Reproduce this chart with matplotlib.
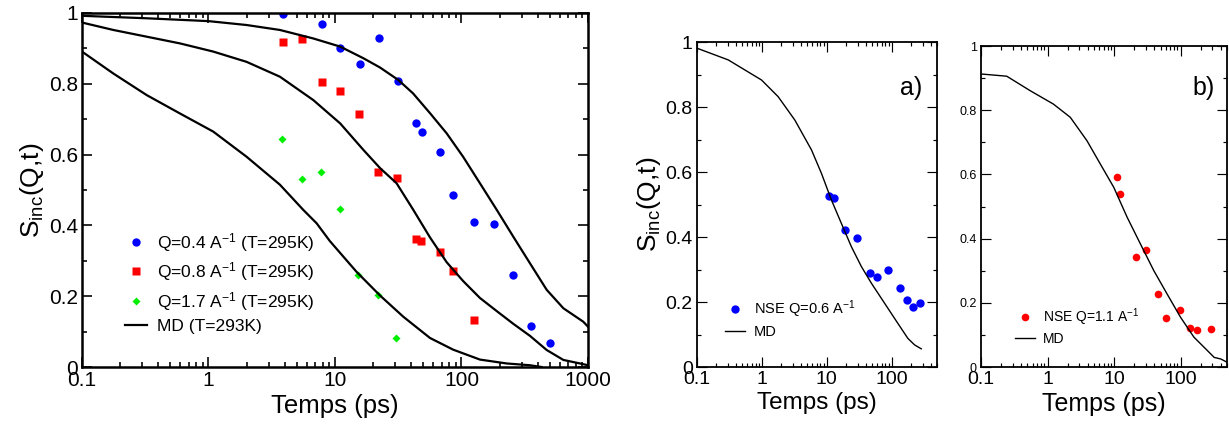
import matplotlib
matplotlib.use("Agg")
import matplotlib.pyplot as plt
from matplotlib.ticker import FixedLocator, NullFormatter, FuncFormatter

plt.rcParams['font.family'] = ['Liberation Sans', 'DejaVu Sans']
plt.rcParams['mathtext.fontset'] = 'custom'
plt.rcParams['mathtext.rm'] = 'Liberation Sans'
plt.rcParams['mathtext.it'] = 'Liberation Sans'

# ---- panel 1 : NSE data at three Q and MD curves ----
t_q04 = [3.86, 7.85, 11.0, 15.7, 22.3, 31.5, 43.4, 48.4, 68, 86, 126, 181, 254, 357, 503]
s_q04 = [0.997, 0.968, 0.902, 0.857, 0.930, 0.809, 0.689, 0.665, 0.607, 0.486, 0.409, 0.403, 0.260, 0.117, 0.067]

t_q08 = [3.86, 5.48, 7.85, 11.0, 15.6, 21.9, 30.7, 43.4, 47.8, 67.3, 85, 126]
s_q08 = [0.918, 0.927, 0.806, 0.780, 0.714, 0.551, 0.534, 0.362, 0.357, 0.326, 0.272, 0.133]

t_q17 = [3.84, 5.44, 7.7, 10.9, 15.3, 21.7, 30.4]
s_q17 = [0.643, 0.532, 0.551, 0.447, 0.260, 0.204, 0.081]

md1_t = [0.1, 0.325, 1.0, 2.0, 3.67, 6.74, 11.0, 16.8, 22.7, 31.6, 41.4, 56.4, 76.4,
         103, 140, 190, 257, 348, 472, 639, 766, 918, 1000]
md1_s = [0.992, 0.985, 0.977, 0.966, 0.952, 0.928, 0.905, 0.872, 0.846, 0.811, 0.773,
         0.717, 0.660, 0.594, 0.519, 0.444, 0.368, 0.293, 0.218, 0.166, 0.147, 0.128, 0.114]

md2_t = [0.1, 0.177, 0.325, 0.596, 1.09, 2.0, 3.67, 6.74, 11.0, 16.8, 22.7, 30.7, 41.6,
         56.4, 76.4, 103, 140, 190, 257, 348, 472, 639, 865, 1000]
md2_s = [0.973, 0.952, 0.933, 0.914, 0.891, 0.862, 0.820, 0.754, 0.688, 0.613, 0.562,
         0.519, 0.444, 0.366, 0.296, 0.243, 0.195, 0.158, 0.122, 0.088, 0.048, 0.020, 0.010, 0.005]

md3_t = [0.1, 0.177, 0.325, 0.596, 1.09, 2.0, 3.67, 5.61, 7.16, 9.1, 14.8, 22.7, 34.7,
         56.4, 86, 140, 228, 348, 430]
md3_s = [0.891, 0.829, 0.768, 0.716, 0.665, 0.594, 0.515, 0.444, 0.406, 0.356, 0.269,
         0.202, 0.142, 0.082, 0.049, 0.021, 0.010, 0.005, 0.0]

# ---- panel a : NSE Q=0.6 ----
t_a = [10.9, 13.1, 19.4, 29.2, 46.5, 59.4, 87.9, 134, 172, 210, 270]
s_a = [0.527, 0.519, 0.422, 0.398, 0.288, 0.278, 0.297, 0.242, 0.206, 0.186, 0.197]
mda_t = [0.1, 0.303, 0.99, 1.78, 3.22, 5.82, 8.28, 11.8, 16.8, 24.0, 34.2, 48.7, 78,
         125, 178, 226, 286]
mda_s = [0.981, 0.945, 0.883, 0.832, 0.760, 0.668, 0.596, 0.514, 0.442, 0.370, 0.309,
         0.258, 0.196, 0.134, 0.088, 0.068, 0.056]

# ---- panel b : NSE Q=1.1 ----
t_b = [11.1, 12.5, 21.5, 29.8, 45.2, 61.1, 99.3, 137, 175, 292]
s_b = [0.591, 0.539, 0.344, 0.364, 0.227, 0.153, 0.177, 0.122, 0.114, 0.118]
mdb_t = [0.1, 0.244, 0.548, 1.23, 2.2, 3.92, 6.24, 9.9, 15.8, 25.0, 39.7, 63, 100,
         159, 254, 320, 403, 500]
mdb_s = [0.913, 0.906, 0.861, 0.819, 0.778, 0.705, 0.632, 0.560, 0.466, 0.383, 0.300,
         0.227, 0.155, 0.093, 0.051, 0.030, 0.025, 0.015]

ylab = r'S$_{\mathregular{inc}}$(Q,t)'
fmt = FuncFormatter(lambda v, p: '%g' % v)

x_major = [0.1, 1, 10, 100, 1000]
x_minor = [m * d for d in [0.1, 1, 10, 100] for m in range(2, 10)]


def style_axes(ax, xmax, xfs, yfs, lw, major, minor):
    ax.set_xscale('log')
    ax.set_xlim(0.1, xmax)
    ax.set_ylim(0, 1)
    ax.xaxis.set_major_locator(FixedLocator(x_major))
    ax.xaxis.set_minor_locator(FixedLocator(x_minor))
    ax.xaxis.set_major_formatter(fmt)
    ax.xaxis.set_minor_formatter(NullFormatter())
    ax.yaxis.set_major_locator(FixedLocator([0, 0.2, 0.4, 0.6, 0.8, 1.0]))
    ax.yaxis.set_minor_locator(FixedLocator([0.1, 0.3, 0.5, 0.7, 0.9]))
    ax.yaxis.set_major_formatter(fmt)
    ax.tick_params(which='both', direction='in', top=True, right=True,
                   width=lw * 0.65, color='black')
    ax.tick_params(which='major', length=major)
    ax.tick_params(which='minor', length=minor)
    ax.tick_params(axis='x', labelsize=xfs, pad=3)
    ax.tick_params(axis='y', labelsize=yfs, pad=3)
    for sp in ax.spines.values():
        sp.set_linewidth(lw)


fig = plt.figure(figsize=(12.29, 4.24), dpi=100)

# panel 1
ax1 = fig.add_axes([0.0667, 0.1344, 0.4117, 0.835])
ax1.plot(t_q04, s_q04, 'o', color='#0000ff', ms=6, mec='none', label=r'Q=0.4 A$^{-1}$ (T=295K)')
ax1.plot(t_q08, s_q08, 's', color='#ff0000', ms=6, mec='none', label=r'Q=0.8 A$^{-1}$ (T=295K)')
ax1.plot(t_q17, s_q17, 'D', color='#00ee00', ms=4.5, mec='none', label=r'Q=1.7 A$^{-1}$ (T=295K)')
ax1.plot(md1_t, md1_s, 'k-', lw=1.6, label='MD (T=293K)')
ax1.plot(md2_t, md2_s, 'k-', lw=1.6)
ax1.plot(md3_t, md3_s, 'k-', lw=1.6)
style_axes(ax1, 1000, 15, 15, 1.8, 7.5, 3.5)
ax1.set_xlabel('Temps (ps)', fontsize=18.5, labelpad=3)
ax1.set_ylabel(ylab, fontsize=19, labelpad=2)
ax1.legend(loc='upper left', bbox_to_anchor=(0.085, 0.385), frameon=False, fontsize=12.5,
           handlelength=1.25, handletextpad=0.6, labelspacing=0.38, borderpad=0,
           borderaxespad=0, numpoints=1)

# panel a
ax2 = fig.add_axes([0.5671, 0.1344, 0.1953, 0.7665])
ax2.plot(t_a, s_a, 'o', color='#0000ff', ms=6, mec='none', label=r'NSE Q=0.6 A$^{-1}$')
ax2.plot(mda_t, mda_s, 'k-', lw=1.0, label='MD')
style_axes(ax2, 500, 14, 14, 1.3, 7, 3)
ax2.set_xlabel('Temps (ps)', fontsize=17.5, labelpad=3)
ax2.set_ylabel(ylab, fontsize=19, labelpad=2)
ax2.text(0.94, 0.86, 'a)', transform=ax2.transAxes, fontsize=18, ha='right', va='center')
ax2.legend(loc='upper left', bbox_to_anchor=(0.115, 0.21), frameon=False, fontsize=10.5,
           handlelength=1.4, handletextpad=0.6, labelspacing=0.3, borderpad=0,
           borderaxespad=0, numpoints=1)

# panel b
ax3 = fig.add_axes([0.7982, 0.1344, 0.2002, 0.757])
ax3.plot(t_b, s_b, 'o', color='#ff0000', ms=5.5, mec='none', label=r'NSE Q=1.1 A$^{-1}$')
ax3.plot(mdb_t, mdb_s, 'k-', lw=1.0, label='MD')
style_axes(ax3, 500, 14, 9, 1.3, 7, 3)
ax3.set_xlabel('Temps (ps)', fontsize=18, labelpad=3)
ax3.text(0.95, 0.87, 'b)', transform=ax3.transAxes, fontsize=18, ha='right', va='center')
ax3.legend(loc='upper left', bbox_to_anchor=(0.14, 0.19), frameon=False, fontsize=10,
           handlelength=1.4, handletextpad=0.6, labelspacing=0.3, borderpad=0,
           borderaxespad=0, numpoints=1)

fig.savefig('out.png', dpi=100)
